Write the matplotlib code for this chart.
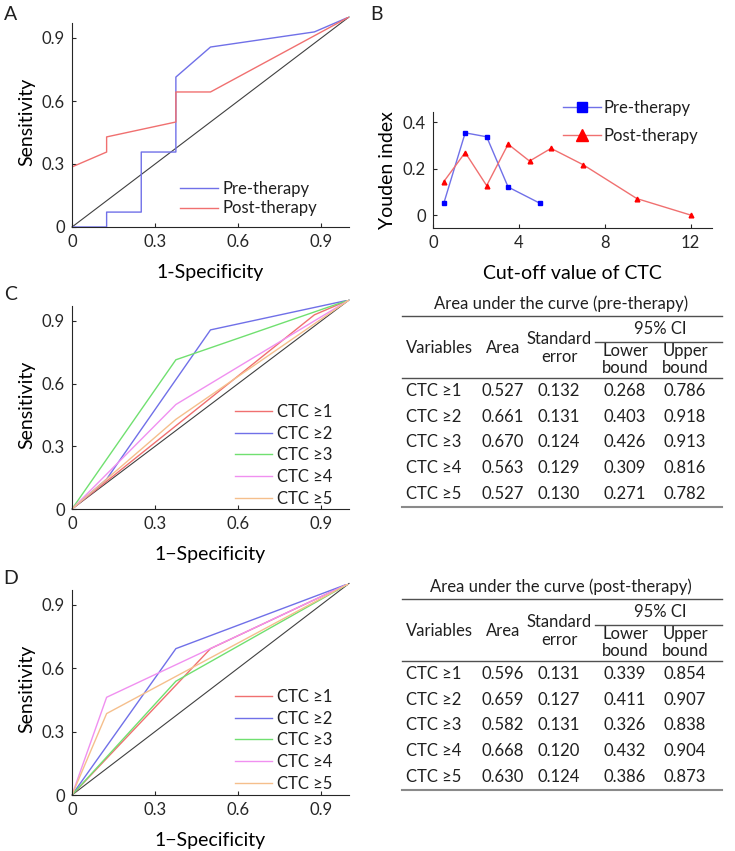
import matplotlib
matplotlib.use('Agg')
import matplotlib.pyplot as plt
from matplotlib.lines import Line2D

plt.rcParams['font.family'] = ['Lato', 'DejaVu Sans']
plt.rcParams['text.color'] = '#202020'

W, H = 735, 851

# panel A: ROC curves of the CTC count
pre_fpr = [0, 0.125, 0.125, 0.25, 0.25, 0.375, 0.375, 0.5, 0.875, 1]
pre_tpr = [0, 0, 0.071, 0.071, 0.357, 0.357, 0.714, 0.857, 0.929, 1]
post_fpr = [0, 0, 0.125, 0.125, 0.375, 0.375, 0.5, 1]
post_tpr = [0, 0.286, 0.357, 0.429, 0.5, 0.643, 0.643, 1]

# panel B: Youden index by cut-off
pre_cut = [0.5, 1.5, 2.5, 3.5, 5]
pre_youden = [0.050, 0.355, 0.338, 0.121, 0.050]
post_cut = [0.5, 1.5, 2.5, 3.5, 4.5, 5.5, 7, 9.5, 12]
post_youden = [0.144, 0.270, 0.127, 0.306, 0.233, 0.288, 0.217, 0.071, 0.0]

# panels C/D: single cut-off ROC curves
cut_labels = ['CTC \u22651', 'CTC \u22652', 'CTC \u22653', 'CTC \u22654', 'CTC \u22655']
cut_colors = ['#f07070', '#7070e8', '#70e070', '#f090f0', '#f5bf8c']
pre_cut_fpr = [[0, 0.875, 1], [0, 0.125, 0.5, 1], [0, 0.375, 1], [0, 0.375, 1], [0, 0.375, 1]]
pre_cut_tpr = [[0, 0.929, 1], [0, 0.143, 0.857, 1], [0, 0.714, 1], [0, 0.5, 1], [0, 0.429, 1]]
post_cut_fpr = [[0, 0.5, 1], [0, 0.375, 1], [0, 0.375, 1], [0, 0.125, 1], [0, 0.125, 1]]
post_cut_tpr = [[0, 0.692, 1], [0, 0.692, 1], [0, 0.538, 1], [0, 0.462, 1], [0, 0.385, 1]]

# AUC tables
pre_area = ['0.527', '0.661', '0.670', '0.563', '0.527']
pre_se = ['0.132', '0.131', '0.124', '0.129', '0.130']
pre_lower = ['0.268', '0.403', '0.426', '0.309', '0.271']
pre_upper = ['0.786', '0.918', '0.913', '0.816', '0.782']
post_area = ['0.596', '0.659', '0.582', '0.668', '0.630']
post_se = ['0.131', '0.127', '0.131', '0.120', '0.124']
post_lower = ['0.339', '0.411', '0.326', '0.432', '0.386']
post_upper = ['0.854', '0.907', '0.838', '0.904', '0.873']

roc_ticks = [0, 0.3, 0.6, 0.9]
roc_ticklabels = ['0', '0.3', '0.6', '0.9']

TICK_FS = 12
LABEL_FS = 14
LEG_FS = 12
TAB_FS = 12


def fx(px):
    return px / W


def fy(py):
    return 1 - py / H


def add_axes(left, top, right, bottom):
    return fig.add_axes([fx(left), fy(bottom), fx(right) - fx(left), fy(top) - fy(bottom)])


def style(ax):
    for s in ['top', 'right']:
        ax.spines[s].set_visible(False)
    for s in ['left', 'bottom']:
        ax.spines[s].set_color('#262626')
        ax.spines[s].set_linewidth(0.8)
    ax.tick_params(direction='in', length=3, width=0.8, labelsize=TICK_FS,
                   colors='#262626', pad=5)


def roc_axes(ax, xlabel):
    style(ax)
    ax.set_xlim(0, 1)
    ax.set_ylim(0, 1)
    ax.spines['left'].set_bounds(0, 0.97)
    ax.set_xticks(roc_ticks, roc_ticklabels)
    ax.set_yticks(roc_ticks, roc_ticklabels)
    ax.set_xlabel(xlabel, fontsize=LABEL_FS, labelpad=10)
    ax.set_ylabel('Sensitivity', fontsize=LABEL_FS, labelpad=5)
    ax.plot([0, 1], [0, 1], color='#404040', lw=0.8, clip_on=False)


def draw_table(title, area, se, lower, upper, y0):
    x_left, x_right = 402, 722
    fig.text(fx(561), fy(y0), title, ha='center', va='center', fontsize=TAB_FS)
    fig.add_artist(Line2D([fx(x_left), fx(x_right)], [fy(y0 + 12)] * 2, color='#505050', lw=1))
    fig.text(fx(660), fy(y0 + 25), '95% CI', ha='center', va='center', fontsize=TAB_FS)
    fig.add_artist(Line2D([fx(595), fx(x_right)], [fy(y0 + 38)] * 2, color='#505050', lw=1))
    fig.text(fx(406), fy(y0 + 44), 'Variables', ha='left', va='center', fontsize=TAB_FS)
    fig.text(fx(503), fy(y0 + 44), 'Area', ha='center', va='center', fontsize=TAB_FS)
    fig.text(fx(559), fy(y0 + 35), 'Standard', ha='center', va='center', fontsize=TAB_FS)
    fig.text(fx(559), fy(y0 + 53), 'error', ha='center', va='center', fontsize=TAB_FS)
    fig.text(fx(625), fy(y0 + 47), 'Lower', ha='center', va='center', fontsize=TAB_FS)
    fig.text(fx(625), fy(y0 + 64), 'bound', ha='center', va='center', fontsize=TAB_FS)
    fig.text(fx(685), fy(y0 + 47), 'Upper', ha='center', va='center', fontsize=TAB_FS)
    fig.text(fx(685), fy(y0 + 64), 'bound', ha='center', va='center', fontsize=TAB_FS)
    fig.add_artist(Line2D([fx(x_left), fx(x_right)], [fy(y0 + 74)] * 2, color='#505050', lw=1))
    for i in range(len(area)):
        y = fy(y0 + 87 + 25.7 * i)
        fig.text(fx(406), y, cut_labels[i], ha='left', va='center', fontsize=TAB_FS)
        fig.text(fx(503), y, area[i], ha='center', va='center', fontsize=TAB_FS)
        fig.text(fx(559), y, se[i], ha='center', va='center', fontsize=TAB_FS)
        fig.text(fx(625), y, lower[i], ha='center', va='center', fontsize=TAB_FS)
        fig.text(fx(685), y, upper[i], ha='center', va='center', fontsize=TAB_FS)
    fig.add_artist(Line2D([fx(x_left), fx(x_right)], [fy(y0 + 203)] * 2, color='#8a8a8a', lw=1.5))


fig = plt.figure(figsize=(W / 100, H / 100), dpi=100)

# A
axA = add_axes(72, 17, 349, 227)
roc_axes(axA, '1-Specificity')
axA.plot(pre_fpr, pre_tpr, color='#7070e8', lw=1, label='Pre-therapy')
axA.plot(post_fpr, post_tpr, color='#f07070', lw=1, label='Post-therapy')
handles = axA.get_lines()[1:]
axA.legend(handles, [h.get_label() for h in handles], loc='upper left', frameon=False,
           bbox_to_anchor=(fx(180), fy(181)), bbox_transform=fig.transFigure,
           borderpad=0, borderaxespad=0, handlelength=2.3, handletextpad=0.25,
           labelspacing=0.2, fontsize=LEG_FS)

# B
axB = add_axes(433, 112, 712, 228)
style(axB)
axB.plot(pre_cut, pre_youden, color='#7070e8', lw=1, marker='s', ms=2.8,
         mfc='#0000ff', mec='#0000ff', label='Pre-therapy')
axB.plot(post_cut, post_youden, color='#f07070', lw=1, marker='^', ms=3.4,
         mfc='#ff0000', mec='#ff0000', label='Post-therapy')
axB.set_xlim(0, 13)
axB.set_ylim(-0.056, 0.445)
axB.set_xticks([0, 4, 8, 12], ['0', '4', '8', '12'])
axB.set_yticks([0, 0.2, 0.4], ['0', '0.2', '0.4'])
axB.set_xlabel('Cut-off value of CTC', fontsize=LABEL_FS, labelpad=10)
axB.set_ylabel('Youden index', fontsize=LABEL_FS, labelpad=5)
axB.legend(loc='upper left', frameon=False, bbox_to_anchor=(fx(563), fy(100)),
           bbox_transform=fig.transFigure, borderpad=0, borderaxespad=0,
           handlelength=2.3, handletextpad=0.15, labelspacing=0.7,
           markerscale=2.7, fontsize=LEG_FS)

# C
axC = add_axes(72, 300, 349, 509)
roc_axes(axC, '1\u2212Specificity')
for i in range(len(cut_labels)):
    axC.plot(pre_cut_fpr[i], pre_cut_tpr[i], color=cut_colors[i], lw=1, label=cut_labels[i])
handles = axC.get_lines()[1:]
axC.legend(handles, cut_labels, loc='upper left', frameon=False,
           bbox_to_anchor=(fx(235), fy(404)), bbox_transform=fig.transFigure,
           borderpad=0, borderaxespad=0, handlelength=2.2, handletextpad=0.3,
           labelspacing=0.34, fontsize=LEG_FS)

# D
axD = add_axes(72, 583.5, 349, 795)
roc_axes(axD, '1\u2212Specificity')
for i in range(len(cut_labels)):
    axD.plot(post_cut_fpr[i], post_cut_tpr[i], color=cut_colors[i], lw=1, label=cut_labels[i])
handles = axD.get_lines()[1:]
axD.legend(handles, cut_labels, loc='upper left', frameon=False,
           bbox_to_anchor=(fx(235), fy(689)), bbox_transform=fig.transFigure,
           borderpad=0, borderaxespad=0, handlelength=2.2, handletextpad=0.3,
           labelspacing=0.34, fontsize=LEG_FS)

# tables
draw_table('Area under the curve (pre-therapy)', pre_area, pre_se, pre_lower, pre_upper, 304)
draw_table('Area under the curve (post-therapy)', post_area, post_se, post_lower, post_upper, 587)

# panel letters
for letter, (px, py) in zip('ABCD', [(11, 14), (377, 14), (11, 295), (11, 578)]):
    fig.text(fx(px), fy(py), letter, ha='center', va='center', fontsize=14)

fig.savefig('out.png', dpi=100)
